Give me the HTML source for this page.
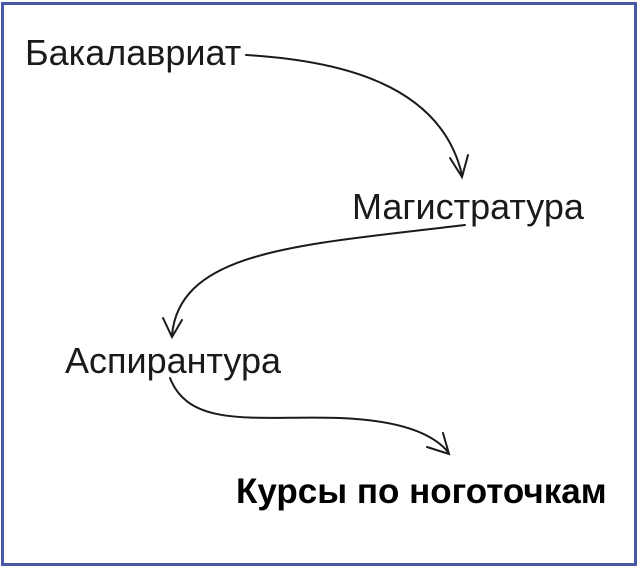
<!DOCTYPE html>
<html><head><meta charset="utf-8"><style>
body{margin:0;width:640px;height:574px;background:#fff;overflow:hidden;position:relative;font-family:"Liberation Sans","DejaVu Sans",sans-serif;}
.frame{position:absolute;left:1px;top:2px;width:630px;height:558px;border:3px solid #4a56a6;}
.t{position:absolute;font-size:36px;color:#1a1a1a;white-space:nowrap;line-height:1;}
</style></head><body>
<div class="frame"></div>
<div class="t" style="left:25px;top:35px;">Бакалавриат</div>
<div class="t" style="left:352px;top:189px;">Магистратура</div>
<div class="t" style="left:65px;top:343px;">Аспирантура</div>
<div class="t" style="left:236px;top:474px;font-weight:bold;font-size:35px;color:#000;">Курсы по ноготочкам</div>
<svg width="640" height="574" style="position:absolute;left:0;top:0" fill="none" stroke="#1a1a1a" stroke-width="2" stroke-linecap="round">
<path d="M246 55 C330 60 440 80 462 175"/>
<path d="M450 158 L462 177 L468 155"/>
<path d="M465 225 C300 245 180 250 172 335"/>
<path d="M163 318 L172 337 L182 320"/>
<path d="M170 378 C190 430 260 415 340 418 C390 420 430 430 448 452"/>
<path d="M427 447 L449 454 L443 433"/>
</svg>
</body></html>
